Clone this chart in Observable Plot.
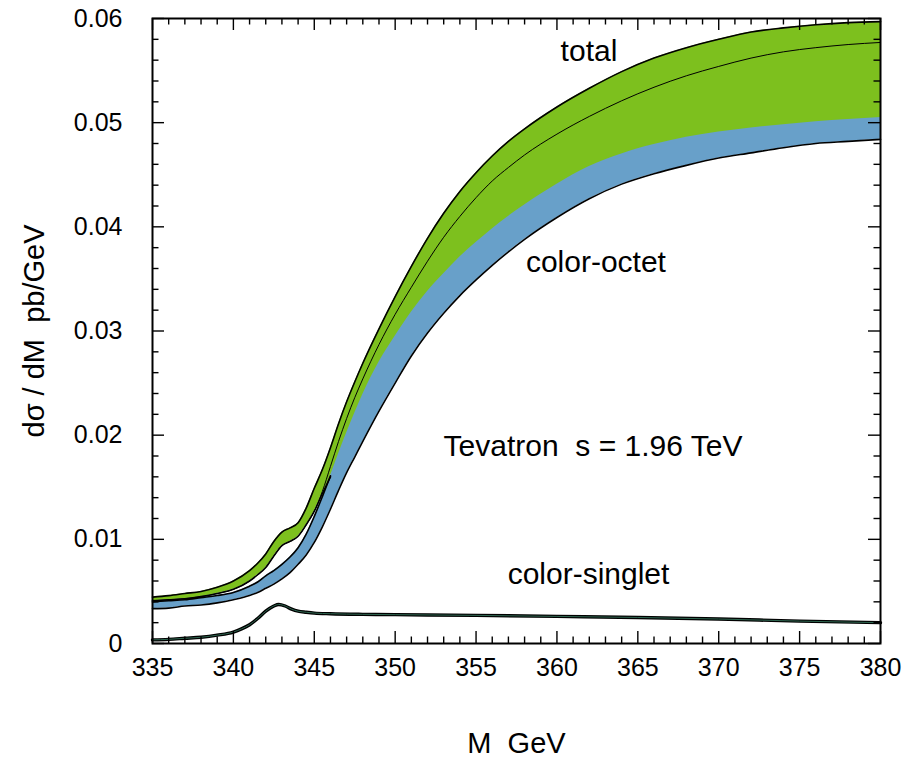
<!DOCTYPE html>
<html>
<head>
<meta charset="utf-8">
<script src="https://cdn.jsdelivr.net/npm/d3@7"></script>
<script src="https://cdn.jsdelivr.net/npm/@observablehq/plot@0.6"></script>
<style>
  html, body { margin: 0; padding: 0; background: #fff; }
  #chart { width: 919px; height: 760px; }
</style>
</head>
<body>
<div id="chart"></div>
<script>
// ---- data ----
const M = [335, 336, 337, 338, 339, 340, 341, 341.5, 342, 342.5, 343, 343.5, 344, 344.5, 345, 345.5, 346, 346.5, 347, 347.5, 348, 349, 350, 351, 352, 353, 354, 355, 356, 357, 358, 360, 362, 364, 366, 368, 370, 372, 374, 376, 378, 380];
const totalHi = [0.00445, 0.0046, 0.0048, 0.0050, 0.0054, 0.0060, 0.0070, 0.0077, 0.0086, 0.0098, 0.0107, 0.0111, 0.0116, 0.0130, 0.0149, 0.0167, 0.0188, 0.0211, 0.0232, 0.0251, 0.0269, 0.0302, 0.0333, 0.0362, 0.0389, 0.0413, 0.0434, 0.0452, 0.0468, 0.0482, 0.0494, 0.0515, 0.0533, 0.0549, 0.0562, 0.0572, 0.0580, 0.0587, 0.0591, 0.0594, 0.0596, 0.0597];
const totalMid = [0.0041, 0.0042, 0.0043, 0.0045, 0.0048, 0.0052, 0.0060, 0.0066, 0.0073, 0.0084, 0.0094, 0.0098, 0.0103, 0.0114, 0.0127, 0.0146, 0.0170, 0.0194, 0.0216, 0.0236, 0.0254, 0.0287, 0.0316, 0.0342, 0.0367, 0.0390, 0.0410, 0.0428, 0.0444, 0.0457, 0.0469, 0.0489, 0.0506, 0.0521, 0.0534, 0.0545, 0.0554, 0.0562, 0.0568, 0.0572, 0.0575, 0.0577];
const totalLo = [0.0041, 0.0042, 0.0043, 0.0045, 0.0048, 0.0052, 0.0060, 0.0066, 0.0073, 0.0084, 0.0094, 0.0098, 0.0103, 0.0114, 0.0127, 0.0144, 0.0160, 0.0178, 0.0196, 0.0213, 0.0229, 0.0257, 0.0283, 0.0308, 0.0330, 0.0348, 0.0364, 0.0378, 0.0391, 0.0403, 0.0414, 0.0434, 0.0451, 0.0463, 0.0472, 0.0479, 0.0484, 0.0488, 0.0491, 0.0494, 0.0496, 0.0498];
const octetHi = [0.0040, 0.0041, 0.0042, 0.0044, 0.0046, 0.0049, 0.0055, 0.0059, 0.0065, 0.0070, 0.0076, 0.0083, 0.0092, 0.0105, 0.0122, 0.0141, 0.0161, 0.0182, 0.0202, 0.0221, 0.0239, 0.0270, 0.0295, 0.0318, 0.0338, 0.0355, 0.0371, 0.0385, 0.0398, 0.0410, 0.0421, 0.0441, 0.0458, 0.0470, 0.0479, 0.0486, 0.0491, 0.0495, 0.0498, 0.0501, 0.0503, 0.0505];
const octetLo = [0.00335, 0.0034, 0.0036, 0.0037, 0.0039, 0.0042, 0.0046, 0.0049, 0.0053, 0.0057, 0.0062, 0.0068, 0.0076, 0.0085, 0.0097, 0.0112, 0.0129, 0.0147, 0.0164, 0.0179, 0.0194, 0.0223, 0.0250, 0.0276, 0.0298, 0.0317, 0.0334, 0.0349, 0.0363, 0.0376, 0.0388, 0.0409, 0.0427, 0.0441, 0.0451, 0.0459, 0.0466, 0.0471, 0.0476, 0.0480, 0.0482, 0.0484];

const singletM = [335, 336, 337, 338, 339, 340, 340.5, 341, 341.5, 342, 342.5, 342.8, 343.2, 343.6, 344, 344.5, 345, 346, 348, 350, 355, 360, 365, 370, 375, 380];
const singlet = [0.00035, 0.0004, 0.0005, 0.0006, 0.0008, 0.0011, 0.0014, 0.0018, 0.0024, 0.0031, 0.0036, 0.00375, 0.0036, 0.0033, 0.0031, 0.0030, 0.00292, 0.00286, 0.0028, 0.00277, 0.0027, 0.0026, 0.0025, 0.00235, 0.00215, 0.0020];

const xTicks = [335, 340, 345, 350, 355, 360, 365, 370, 375, 380];
const xTickLabels = ["335", "340", "345", "350", "355", "360", "365", "370", "375", "380"];
const yTicks = [0, 0.01, 0.02, 0.03, 0.04, 0.05, 0.06];
const yTickLabels = ["0", "0.01", "0.02", "0.03", "0.04", "0.05", "0.06"];
const xMinor = [336, 337, 338, 339, 341, 342, 343, 344, 346, 347, 348, 349, 351, 352, 353, 354, 356, 357, 358, 359, 361, 362, 363, 364, 366, 367, 368, 369, 371, 372, 373, 374, 376, 377, 378, 379];
const yMinor = [0.002, 0.004, 0.006, 0.008, 0.012, 0.014, 0.016, 0.018, 0.022, 0.024, 0.026, 0.028, 0.032, 0.034, 0.036, 0.038, 0.042, 0.044, 0.046, 0.048, 0.052, 0.054, 0.056, 0.058];

const labelTexts = ["total", "color-octet", "Tevatron  s = 1.96 TeV", "color-singlet"];
const labelM = [361.98, 362.41, 362.23, 361.95];
const labelV = [0.05683, 0.03658, 0.01891, 0.00662];

const xTitle = "M  GeV";
const yTitle = "dσ / dM  pb/GeV";

// ---- build ----
const rows = M.map((m, i) => ({m, tHi: totalHi[i], tMid: totalMid[i], tLo: totalLo[i], oHi: octetHi[i], oLo: octetLo[i]}));
const low = rows.filter(r => r.m <= 346);
const sing = singletM.map((m, i) => ({m, v: singlet[i]}));
const labels = labelTexts.map((t, i) => ({t, m: labelM[i], v: labelV[i]}));

const GREEN = "#7dc01e";
const BLUE = "#68a0c9";
const curve = "monotone-x";
const W = 919, H = 760, mL = 152, mR = 39, mT = 18, mB = 117;
const iW = W - mL - mR, iH = H - mT - mB;
const MAJ = 12, MIN = 6.5;
const font = "'Liberation Sans', Arial, Helvetica, sans-serif";

const chart = Plot.plot({
  width: W, height: H,
  marginLeft: mL, marginRight: mR, marginTop: mT, marginBottom: mB,
  style: {fontFamily: font, background: "white", color: "black"},
  x: {domain: [335, 380], axis: null},
  y: {domain: [0, 0.06], axis: null},
  marks: [
    Plot.areaY(rows, {x: "m", y1: "tLo", y2: "tHi", fill: GREEN, curve}),
    Plot.areaY(rows, {x: "m", y1: "oLo", y2: "oHi", fill: BLUE, curve}),
    Plot.lineY(low, {x: "m", y: "tLo", stroke: "black", strokeWidth: 1.6, curve}),
    Plot.lineY(low, {x: "m", y: "oHi", stroke: "black", strokeWidth: 1.6, curve}),
    Plot.lineY(rows, {x: "m", y: "tHi", stroke: "black", strokeWidth: 1.6, curve}),
    Plot.lineY(rows, {x: "m", y: "tMid", stroke: "black", strokeWidth: 1, curve}),
    Plot.lineY(rows, {x: "m", y: "oLo", stroke: "black", strokeWidth: 1.6, curve}),
    Plot.lineY(sing, {x: "m", y: "v", stroke: "black", strokeWidth: 3.4, curve}),
    Plot.lineY(sing, {x: "m", y: "v", stroke: "#2f6650", strokeWidth: 1, curve}),
    // inward ticks: bottom, top, left, right
    Plot.tickX(xTicks, {x: d => d, insetTop: iH - MAJ, strokeWidth: 1.4}),
    Plot.tickX(xMinor, {x: d => d, insetTop: iH - MIN, strokeWidth: 1.4}),
    Plot.tickX(xTicks, {x: d => d, insetBottom: iH - MAJ, strokeWidth: 1.4}),
    Plot.tickX(xMinor, {x: d => d, insetBottom: iH - MIN, strokeWidth: 1.4}),
    Plot.tickY(yTicks, {y: d => d, insetRight: iW - MAJ, strokeWidth: 1.4}),
    Plot.tickY(yMinor, {y: d => d, insetRight: iW - MIN, strokeWidth: 1.4}),
    Plot.tickY(yTicks, {y: d => d, insetLeft: iW - MAJ, strokeWidth: 1.4}),
    Plot.tickY(yMinor, {y: d => d, insetLeft: iW - MIN, strokeWidth: 1.4}),
    Plot.frame({stroke: "black", strokeWidth: 2}),
    // tick labels
    Plot.axisX(xTicks, {anchor: "bottom", tickSize: 0, tickPadding: 15, fontSize: 25, tickFormat: (d, i) => xTickLabels[i], label: null}),
    Plot.axisY(yTicks, {anchor: "left", tickSize: 0, tickPadding: 30, fontSize: 25, tickFormat: (d, i) => yTickLabels[i], label: null}),
    // annotations
    Plot.text(labels, {x: "m", y: "v", text: "t", fontSize: 30, textAnchor: "middle", lineAnchor: "middle", fill: "black"}),
    // axis titles
    Plot.text([xTitle], {frameAnchor: "bottom", dy: 100, fontSize: 29, textAnchor: "middle", lineAnchor: "middle", fill: "black"}),
    Plot.text([yTitle], {frameAnchor: "left", dx: -118, rotate: -90, fontSize: 29, textAnchor: "middle", lineAnchor: "middle", fill: "black"})
  ]
});
document.getElementById("chart").appendChild(chart);
</script>
</body>
</html>
